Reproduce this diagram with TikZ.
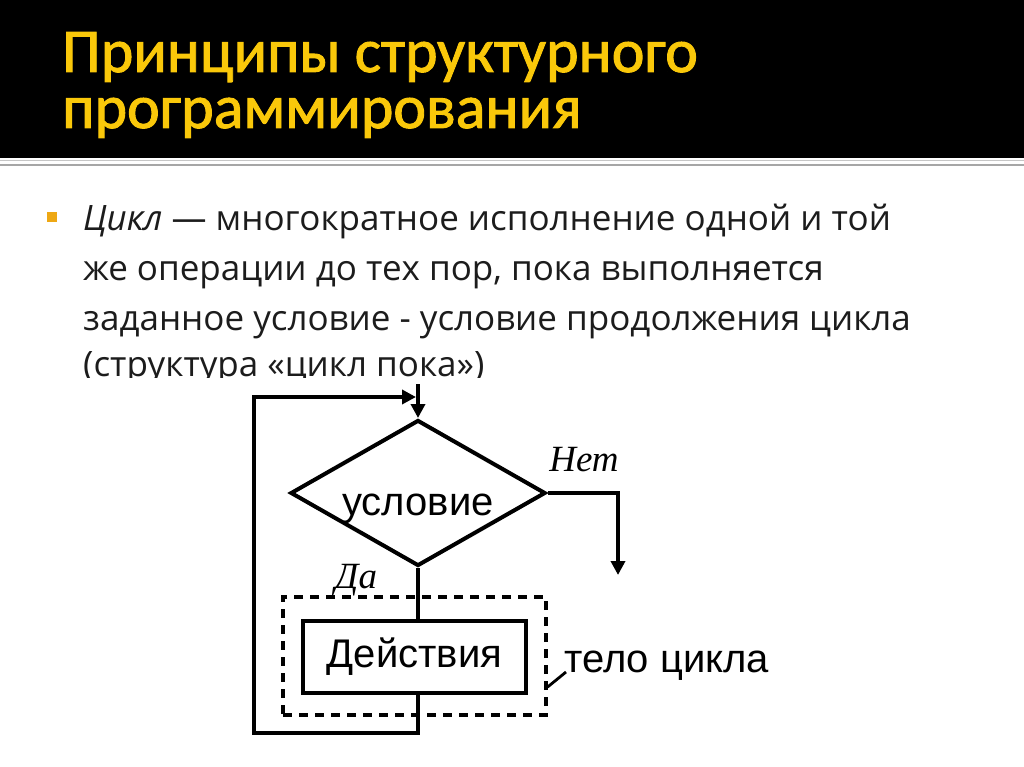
\documentclass[tikz,border=0pt]{standalone}
\usepackage{fontspec}
\setmainfont{Carlito}
\newfontfamily\titlefont[FakeBold=1.5]{Carlito}
\newfontfamily\bodyfont{Open Sans}
\newfontfamily\arialfont{Liberation Sans}
\newfontfamily\timesfont{Liberation Serif}
\usetikzlibrary{positioning,arrows.meta,shapes.geometric}
\definecolor{titleyellow}{RGB}{250,200,10}
\definecolor{bulletorange}{RGB}{238,168,20}
\definecolor{bodygray}{RGB}{28,28,28}

\begin{document}
\begin{tikzpicture}[x=1pt,y=-1pt,
    flow/.style={line width=4pt},
    arr/.style={flow,-{Triangle[length=14pt,width=14pt]}},
    titletxt/.style={anchor=base west,inner sep=0,text=titleyellow,font=\titlefont\fontsize{62}{62}\selectfont},
    bodytxt/.style={anchor=base west,inner sep=0,text=bodygray,font=\bodyfont\fontsize{35}{35}\selectfont},
    chart/.style={font=\arialfont\fontsize{40}{40}\selectfont},
    yesno/.style={font=\timesfont\itshape\fontsize{37}{37}\selectfont}]
  \useasboundingbox (0,0) rectangle (1024,767);
  % header
  \fill[black] (0,0) rectangle (1024,158);
  \draw[gray!45,line width=1.5pt] (0,160.5) -- (1024,160.5);
  \draw[gray!70,line width=2pt] (0,165) -- (1024,165);
  \node[titletxt] (title1) at (62,72) {Принципы структурного};
  \node[titletxt] (title2) at (62,128) {программирования};
  % bullet text
  \fill[bulletorange] (47,212) rectangle (57,222);
  \node[bodytxt] (line1) at (83,230) {\textit{Цикл} — многократное исполнение одной и той};
  \node[bodytxt] (line2) at (83,280) {же операции до тех пор, пока выполняется};
  \node[bodytxt] (line3) at (83,330) {заданное условие - условие продолжения цикла};
  \node[bodytxt] (line4) at (83,376) {(структура «цикл пока»)};
  \fill[white] (75,378) rectangle (640,392);
  % flowchart
  \node[chart,draw,flow,diamond,inner sep=0,minimum width=255pt,minimum height=146pt,
        label={[chart,yshift=-16pt]center:условие}] (cond) at (418,493) {};
  \node[chart,draw,flow,minimum width=223pt,minimum height=72pt] (act) at (414.5,657) {Действия};
  \node[draw,line width=3.2pt,dash pattern=on 9pt off 7pt,minimum width=263pt,minimum height=118pt] (loopbody) at (414.5,656) {};
  \node[chart,anchor=base west,inner sep=0] (bodylbl) at (564,672) {тело цикла};
  \node[yesno] (no) at (584,460) {Нет};
  \node[yesno] (yes) at (356,580) {Да};
  \coordinate (entry) at (418,384);
  \coordinate (looptop) at (416,397);
  \coordinate (loopleft) at (254,733);
  \coordinate (exitend) at (618,575);
  \coordinate (tickend) at (566,672);
  \draw[arr] (entry) -- (cond.north);
  \draw[flow] (cond.south) -- (cond.south |- act.north);
  \draw[arr] (cond.south |- act.south) |- (loopleft) |- (looptop);
  \draw[arr] (cond.east) -| (exitend);
  \draw[line width=2.8pt] ([yshift=-31pt]loopbody.east) -- (tickend);
\end{tikzpicture}
\end{document}
